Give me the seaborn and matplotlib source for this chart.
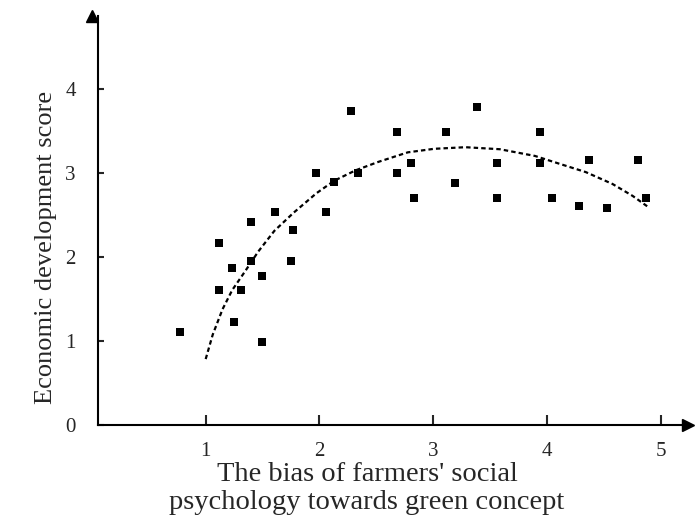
import numpy as np
import pandas as pd
import seaborn as sns
import matplotlib.pyplot as plt

# scatter points
bias = [0.775, 1.114, 1.114, 1.228, 1.248, 1.31, 1.40, 1.40, 1.496, 1.496,
        1.613, 1.746, 1.772, 1.974, 2.06, 2.127, 2.274, 2.34, 2.685, 2.685,
        2.81, 2.83, 3.11, 3.19, 3.385, 3.56, 3.56, 3.936, 3.936, 4.047,
        4.283, 4.37, 4.525, 4.80, 4.87]
score = [1.11, 2.17, 1.61, 1.87, 1.23, 1.61, 2.42, 1.95, 1.78, 0.99,
         2.54, 1.95, 2.32, 3.00, 2.54, 2.89, 3.74, 3.00, 3.49, 3.00,
         3.12, 2.70, 3.49, 2.88, 3.79, 3.12, 2.70, 3.49, 3.12, 2.70,
         2.61, 3.15, 2.58, 3.15, 2.70]

# dotted trend curve
trend_x = [1.0, 1.062, 1.148, 1.233, 1.348, 1.462, 1.604, 1.775, 1.974,
           2.132, 2.319, 2.52, 2.778, 3.009, 3.284, 3.587, 3.896, 4.106,
           4.342, 4.578, 4.755, 4.903]
trend_y = [0.785, 1.076, 1.378, 1.606, 1.833, 2.065, 2.312, 2.53, 2.76,
           2.91, 3.033, 3.134, 3.247, 3.289, 3.308, 3.284, 3.204, 3.113,
           3.012, 2.87, 2.728, 2.585]

x_ticks = [1, 2, 3, 4, 5]
y_ticks = [0, 1, 2, 3, 4]

df = pd.DataFrame({"bias": bias, "score": score})
trend = pd.DataFrame({"x": trend_x, "y": trend_y})

sns.set_style("white")
plt.rcParams['font.family'] = ['Liberation Serif', 'DejaVu Serif']

fig = plt.figure(figsize=(6.98, 5.19), dpi=100)
ax = fig.add_axes([0.1404, 0.1811, 0.845, 0.788])

sns.scatterplot(data=df, x="bias", y="score", marker="s", s=30,
                color="black", edgecolor="black", linewidth=0, ax=ax)
sns.lineplot(data=trend, x="x", y="y", sort=False, estimator=None,
             color="black", linewidth=1.6, linestyle=(0, (2, 1.4)), ax=ax)

ax.set_xlim(0.053, 5.24)
ax.set_ylim(0, 4.87)

# only left and bottom axes, with arrow heads
for side in ["top", "right"]:
    ax.spines[side].set_visible(False)
for side in ["left", "bottom"]:
    ax.spines[side].set_linewidth(1.5)
    ax.spines[side].set_color("black")
ax.plot(1, 0, ">k", ms=9, transform=ax.get_yaxis_transform(), clip_on=False)
ax.plot(0, 1, "^k", ms=9, transform=ax.get_xaxis_transform(), clip_on=False)

ax.set_xticks(x_ticks)
ax.set_yticks(y_ticks)
ax.tick_params(axis="x", direction="in", length=7, width=1.5, pad=12,
               labelsize=15, bottom=True)
ax.tick_params(axis="y", direction="in", length=4.5, width=1.5, pad=16,
               labelsize=15, left=True)

ax.set_xlabel("The bias of farmers' social\npsychology towards green concept",
              fontsize=20.5, linespacing=1.18)
ax.xaxis.set_label_coords(0.456, -0.09, transform=ax.transAxes)
ax.xaxis.label.set_va("top")
ax.set_ylabel("Economic development score", fontsize=19)
ax.yaxis.set_label_coords(-0.07, 0.435)

fig.savefig("out.png", dpi=100)
